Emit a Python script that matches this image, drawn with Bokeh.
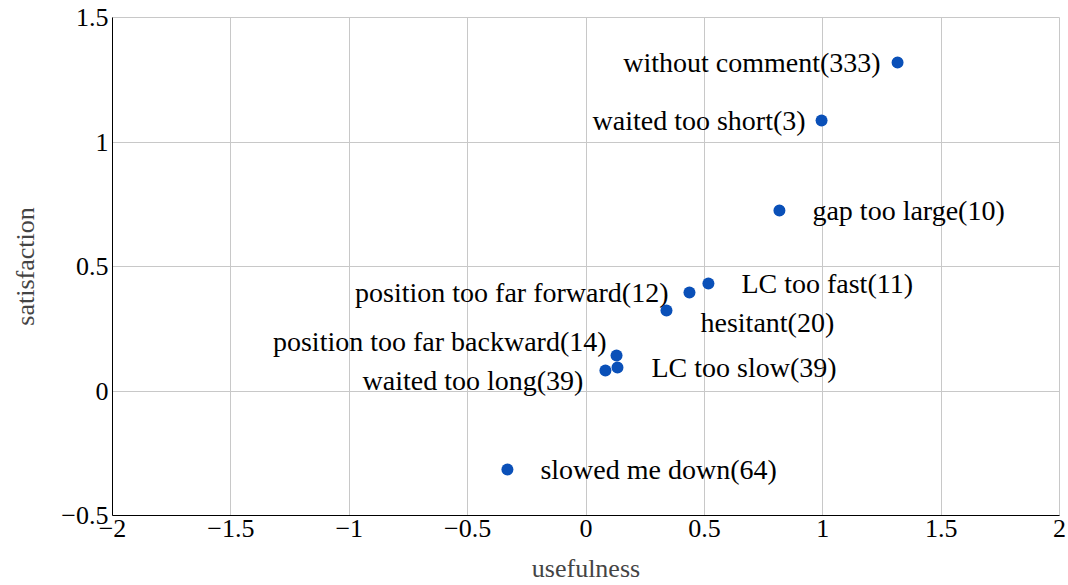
from bokeh.plotting import figure
from bokeh.models import ColumnDataSource, FixedTicker
from bokeh.core.properties import value
from bokeh.embed import file_html
from bokeh.resources import INLINE

labels = ["without comment(333)", "waited too short(3)", "gap too large(10)",
          "LC too fast(11)", "position too far forward(12)", "hesitant(20)",
          "position too far backward(14)", "LC too slow(39)", "waited too long(39)",
          "slowed me down(64)"]
usefulness = [1.316, 0.995, 0.817, 0.517, 0.437, 0.340, 0.129, 0.133, 0.082, -0.332]
satisfaction = [1.319, 1.086, 0.725, 0.432, 0.396, 0.323, 0.143, 0.094, 0.082, -0.315]

x_ticks = [-2, -1.5, -1, -0.5, 0, 0.5, 1, 1.5, 2]
y_ticks = [-0.5, 0, 0.5, 1, 1.5]

# label placement (screen px offsets and alignment), layout only
label_align = ["right", "right", "left", "left", "right", "left", "right", "left", "right", "left"]
label_dx = [-17, -16, 33, 33, -21, 34, -10, 34, -22, 33]
label_dy = [0, 0, 0, 0, 0, 12, -14, 0, 10, 0]

FONT = "Liberation Serif"
FS = "26px"
LFS = "28px"

def fmt(v):
    s = ("%g" % v)
    return s.replace("-", "\u2212")

p = figure(width=1066, height=585, x_range=(-2, 2), y_range=(-0.5, 1.5),
           output_backend="svg", toolbar_location=None,
           min_border_left=112, min_border_right=7, min_border_top=17, min_border_bottom=70)

p.xaxis.ticker = FixedTicker(ticks=x_ticks)
p.yaxis.ticker = FixedTicker(ticks=y_ticks)
p.xaxis.major_label_overrides = {t: fmt(t) for t in x_ticks}
p.yaxis.major_label_overrides = {t: fmt(t) for t in y_ticks}

for ax in (p.xaxis, p.yaxis):
    ax.axis_line_color = "black"
    ax.axis_line_width = 1
    ax.major_tick_in = 0
    ax.major_tick_out = 0
    ax.minor_tick_line_color = None
    ax.major_label_text_font = FONT
    ax.major_label_text_font_size = FS
    ax.major_label_text_color = "black"
    ax.axis_label_text_font = FONT
    ax.axis_label_text_font_size = FS
    ax.axis_label_text_font_style = "normal"
    ax.axis_label_text_color = "#444444"
    ax.major_label_standoff = 4

p.xaxis.axis_label = "usefulness"
p.yaxis.axis_label = "satisfaction"
p.xaxis.axis_label_standoff = 14
p.yaxis.axis_label_standoff = 18

p.grid.grid_line_color = "#c8c8c8"
p.grid.grid_line_width = 1
p.outline_line_color = "#c8c8c8"
p.background_fill_color = "white"
p.border_fill_color = "white"

src = ColumnDataSource(dict(x=usefulness, y=satisfaction, label=labels,
                            align=label_align, dx=label_dx, dy=label_dy))

p.scatter("x", "y", source=src, size=12, color="#0a50b8", line_color=None)
p.text("x", "y", text="label", source=src, x_offset="dx", y_offset="dy",
       text_align="align", text_baseline="middle",
       text_font=value(FONT), text_font_size=LFS, text_color="black")

open("out.html", "w").write(file_html(p, INLINE))
